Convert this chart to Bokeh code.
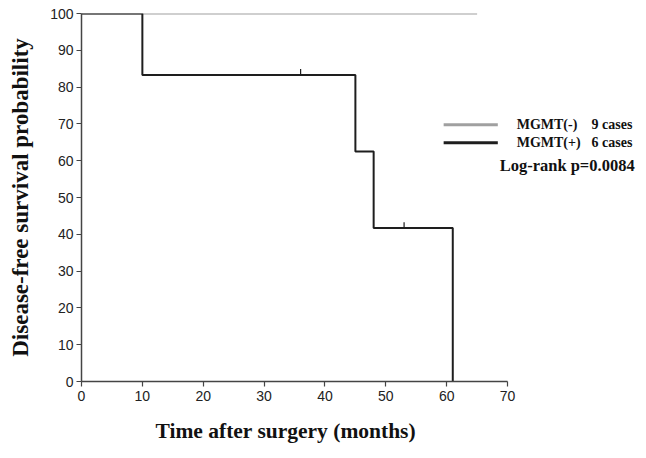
from bokeh.plotting import figure
from bokeh.models import Range1d, FixedTicker, Title
from bokeh.embed import file_html
from bokeh.resources import INLINE

# Data
neg_times = [0, 65]
neg_surv = [100, 100]
pos_times = [0, 10, 45, 48, 61]
pos_surv = [100, 83.3, 62.5, 41.7, 0]
censor_times = [36, 53]
censor_surv = [83.3, 41.7]
x_ticks = [0, 10, 20, 30, 40, 50, 60, 70]
y_ticks = [0, 10, 20, 30, 40, 50, 60, 70, 80, 90, 100]
legend_names = ["MGMT(-)", "MGMT(+)"]
legend_cases = ["9 cases", "6 cases"]
logrank_text = "Log-rank p=0.0084"

GRAY = "#a0a0a0"
BLACK = "#1e1e1e"
TICKFONT = "Liberation Sans"
SERIF = "Liberation Serif"

p = figure(width=646, height=458, output_backend="svg", toolbar_location=None,
           x_range=Range1d(0, 92.5), y_range=Range1d(0, 100),
           min_border_left=81, min_border_right=2, min_border_top=13, min_border_bottom=77)
p.outline_line_color = None
p.grid.grid_line_color = None

for ax in (p.xaxis, p.yaxis):
    ax.axis_line_color = "#444444"
    ax.axis_line_width = 1.5
    ax.major_tick_line_color = "#444444"
    ax.major_tick_line_width = 1.2
    ax.major_tick_in = 0
    ax.major_tick_out = 5
    ax.minor_tick_line_color = None
    ax.major_label_text_font = TICKFONT
    ax.major_label_text_font_size = "14px"
    ax.major_label_text_color = "#222222"
    ax.axis_label_text_font = SERIF
    ax.axis_label_text_font_style = "bold"
    ax.axis_label_text_color = "#111111"

p.xaxis.bounds = (0, 70)
p.xaxis.ticker = FixedTicker(ticks=x_ticks)
p.yaxis.ticker = FixedTicker(ticks=y_ticks)
p.yaxis.axis_label = "Disease-free survival probability"
p.yaxis.axis_label_text_font_size = "23px"
p.yaxis.axis_label_standoff = 14
p.xaxis.major_label_standoff = 4
p.yaxis.major_label_standoff = 3

p.add_layout(Title(text="Time after surgery (months)", align="left", offset=74,
                   text_font=SERIF, text_font_style="bold", text_font_size="21.5px",
                   text_color="#111111", standoff=26), "below")

p.step(neg_times, neg_surv, mode="after", line_color=GRAY, line_width=2)
p.step(pos_times, pos_surv, mode="after", line_color=BLACK, line_width=2)
p.segment(x0=censor_times, y0=censor_surv, x1=censor_times,
          y1=[s + 1.6 for s in censor_surv], line_color=BLACK, line_width=1.2)

# Legend
leg_y = [69.8, 64.9]
p.segment(x0=[59.5, 59.5], y0=leg_y, x1=[68.4, 68.4], y1=leg_y,
          line_color=[GRAY, BLACK], line_width=3)
p.text(x=[71.5, 71.5], y=leg_y, text=legend_names,
       text_font={"value": SERIF}, text_font_style="bold", text_font_size="14px",
       text_baseline="middle", text_color="#111111")
p.text(x=[83.8, 83.8], y=leg_y, text=legend_cases,
       text_font={"value": SERIF}, text_font_style="bold", text_font_size="14px",
       text_baseline="middle", text_color="#111111")
p.text(x=[68.7], y=[58.8], text=[logrank_text],
       text_font={"value": SERIF}, text_font_style="bold", text_font_size="16.5px",
       text_baseline="middle", text_color="#111111")

open("out.html", "w").write(file_html(p, INLINE))
